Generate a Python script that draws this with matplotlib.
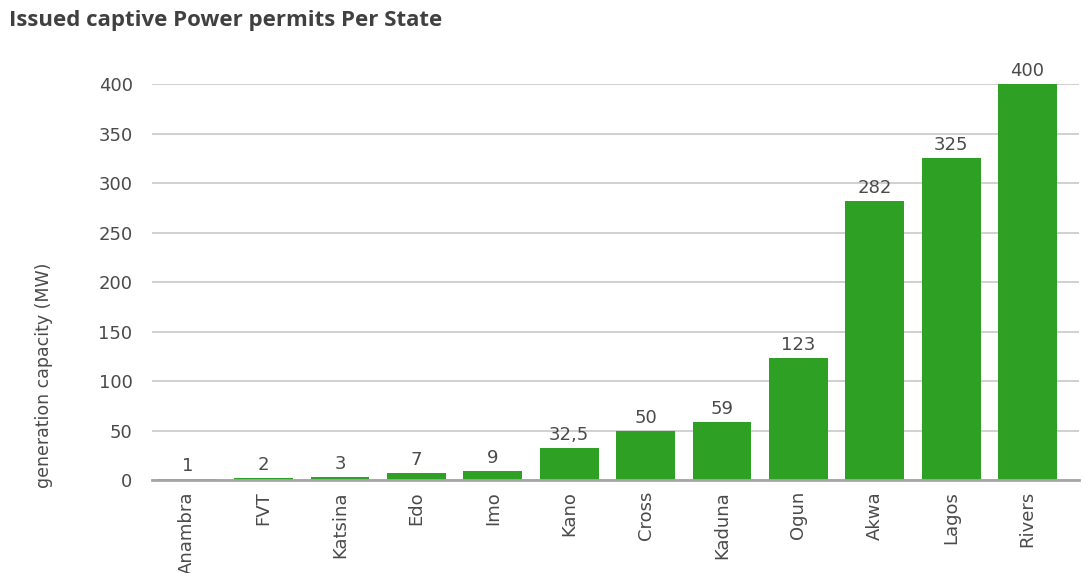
import matplotlib
matplotlib.use("Agg")
import matplotlib.pyplot as plt

plt.rcParams["font.family"] = ["DejaVu Sans"]

# Data
states = ["Anambra", "FVT", "Katsina", "Edo", "Imo", "Kano", "Cross",
          "Kaduna", "Ogun", "Akwa", "Lagos", "Rivers"]
capacity = [1, 2, 3, 7, 9, 32.5, 50, 59, 123, 282, 325, 400]
value_labels = ["1", "2", "3", "7", "9", "32,5", "50", "59", "123", "282", "325", "400"]
yticks = [0, 50, 100, 150, 200, 250, 300, 350, 400]

bar_green = "#2ea124"
text_grey = "#4a4a4a"

fig = plt.figure(figsize=(10.83, 5.73), dpi=100)
ax = fig.add_axes([0.1404, 0.1623, 0.8556, 0.6911])

bars = ax.bar(range(len(states)), capacity, width=0.77, color=bar_green,
              zorder=3, clip_on=False)

for rect, lab in zip(bars, value_labels):
    ax.text(rect.get_x() + rect.get_width() / 2, rect.get_height() + 4, lab,
            ha="center", va="bottom", fontsize=13, color=text_grey)

ax.set_xlim(-0.46, len(states) - 0.33)
ax.set_ylim(0, 400)
ax.set_yticks(yticks)
ax.set_yticklabels([str(t) for t in yticks], fontsize=13, color=text_grey)
ax.set_xticks(range(len(states)))
ax.set_xticklabels(states, rotation=90, fontsize=13, color=text_grey)
ax.tick_params(axis="both", length=0)
ax.tick_params(axis="y", pad=14)
ax.tick_params(axis="x", pad=8)

ax.yaxis.grid(True, color="#c8c8c8", linewidth=1.2, zorder=0)
ax.set_axisbelow(True)
for s in ["top", "right", "left"]:
    ax.spines[s].set_visible(False)
ax.spines["bottom"].set_color("#a6a6a6")
ax.spines["bottom"].set_linewidth(2)
ax.spines["bottom"].set_zorder(4)

ax.set_ylabel("generation capacity (MW)", fontsize=12.5, color=text_grey)
ax.yaxis.set_label_coords(-0.107, 0.265)

fig.text(0.008, 0.965, "Issued captive Power permits Per State", fontsize=16,
         fontweight="bold", color="#404040", family="Open Sans", va="center")

fig.savefig("out.png", dpi=100, facecolor="white")
